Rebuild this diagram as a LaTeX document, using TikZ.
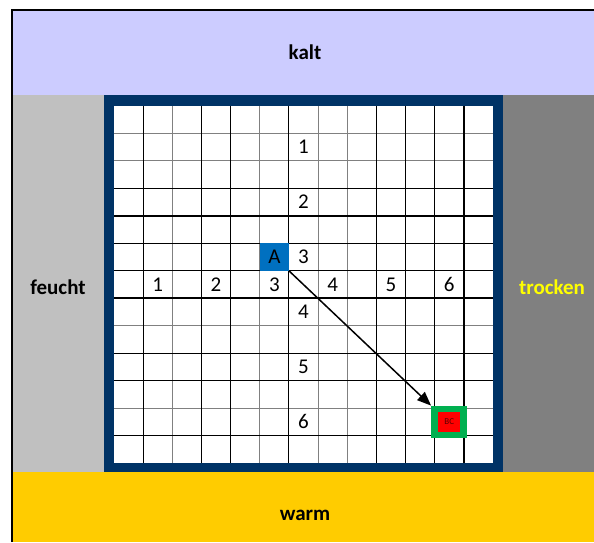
\documentclass[tikz,border=0pt]{standalone}
\usepackage{fontspec}
\setmainfont{Carlito}
\usetikzlibrary{arrows.meta}
\definecolor{lav}{HTML}{CCCCFF}
\definecolor{lgray}{HTML}{C0C0C0}
\definecolor{dgray}{HTML}{808080}
\definecolor{navy}{HTML}{003366}
\definecolor{gold}{HTML}{FFCC00}
\definecolor{ablue}{HTML}{0070C0}
\definecolor{bgreen}{HTML}{00B050}
\definecolor{bred}{HTML}{FF0000}
\definecolor{ylw}{HTML}{FFFF00}
\definecolor{glin}{HTML}{808080}
\tikzset{
  lbl/.style={font=\fontsize{21}{25}\selectfont\bfseries, inner sep=0pt},
  num/.style={font=\fontsize{21}{25}\selectfont, inner sep=0pt},
  thinblack/.style={black, line width=1pt},
  thickblack/.style={black, line width=1.6pt},
  grayline/.style={glin, line width=1.1pt},
}
\begin{document}
\begin{tikzpicture}[x=1pt,y=-1pt]
\useasboundingbox (0,0) rectangle (594,542);
\fill[white] (0,0) rectangle (594,542);
% bands
\fill[lav] (11,10) rectangle (594,95);
\fill[lgray] (11,95) rectangle (104,472);
\fill[navy] (104,95) rectangle (503,472);
\fill[dgray] (503,95) rectangle (594,472);
\fill[gold] (11,472) rectangle (594,542);
\fill[white] (114,106) rectangle (493,463);
% grid: gray lines first
\foreach \i in {2,5,7,8} \draw[grayline] ({114+29.1538*\i},106) -- ({114+29.1538*\i},463);
\foreach \j in {1,2,8,11} \draw[grayline] (114,{106+27.4615*\j}) -- (493,{106+27.4615*\j});
\foreach \i in {1,6,9,10} \draw[thinblack] ({114+29.1538*\i},106) -- ({114+29.1538*\i},463);
\foreach \j in {5,6,9,12} \draw[thinblack] (114,{106+27.4615*\j}) -- (493,{106+27.4615*\j});
\foreach \i in {3,4,11,12} \draw[thickblack] ({114+29.1538*\i},106) -- ({114+29.1538*\i},463);
\foreach \j in {3,4,7,10} \draw[thickblack] (114,{106+27.4615*\j}) -- (493,{106+27.4615*\j});
% outer frame
\draw[black, line width=2pt] (11.5,542) -- (11.5,10) -- (594,10);
% band labels
\node[lbl] (kalt) at (305,52) {kalt};
\node[lbl] (warm) at (305,515) {warm};
\node[lbl] (feucht) at (58,287) {feucht};
\node[lbl, text=ylw] (trocken) at (552,287) {trocken};
% axis numbers
\foreach \k/\n in {1/1,3/2,5/3,7/4,9/5,11/6} {
  \node[num] (h\n) at ({114+29.1538*(\k+0.5)},{106+27.4615*6.5}) {\n};
  \node[num] (v\n) at ({114+29.1538*6.5},{106+27.4615*(\k+0.5)}) {\n};
}
% A cell
\node[fill=ablue, minimum width=29.15pt, minimum height=27.46pt, inner sep=0pt,
      font=\fontsize{21}{25}\selectfont] (A) at ({114+29.1538*5.5},{106+27.4615*5.5}) {A};
% BC cell
\node[fill=bgreen, minimum width=36pt, minimum height=32pt, inner sep=0pt] (G) at ({114+29.1538*11.5},{106+27.4615*11.5}) {};
\node[fill=bred, minimum width=22pt, minimum height=20pt, inner sep=0pt,
      font=\fontsize{9}{10}\selectfont, text={rgb,255:red,90;green,0;blue,0}] (BC) at (G) {BC};
% arrow
\draw[black, line width=1.5pt, -{Triangle[length=14pt,width=11pt]}] (A.south east) -- (G.north west);
\end{tikzpicture}
\end{document}
